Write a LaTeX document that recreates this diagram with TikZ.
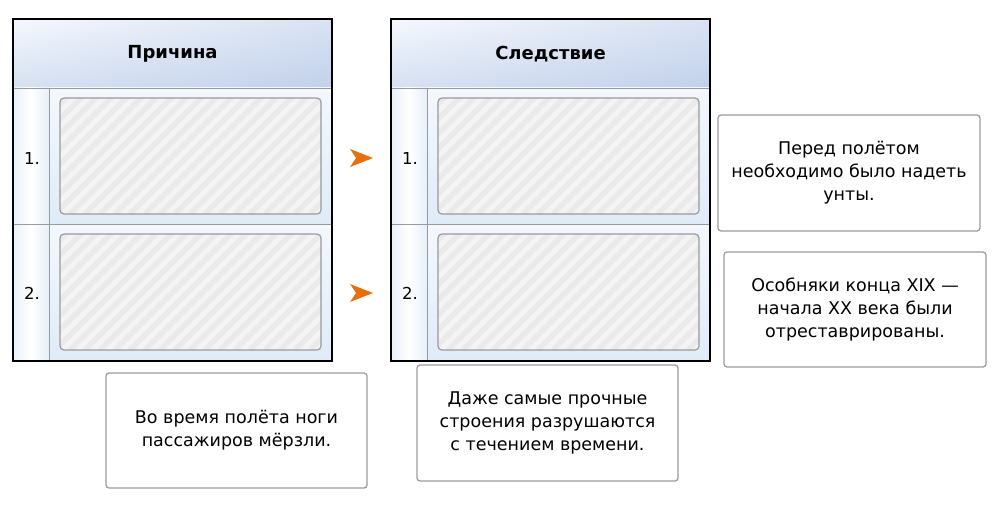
\documentclass[tikz,border=0pt]{standalone}
\usepackage{fontspec}
\setmainfont{DejaVu Sans}
\usetikzlibrary{positioning,shadings}

\definecolor{headlight}{HTML}{F5F8FD}
\definecolor{headdark}{HTML}{C2D1EA}
\definecolor{rowlight}{HTML}{F4F8FD}
\definecolor{rowdark}{HTML}{DFEBF7}
\definecolor{slotfill}{HTML}{F4F4F4}
\definecolor{slotline}{HTML}{EAEAEA}
\definecolor{gridline}{HTML}{9A9A9A}
\definecolor{cardline}{HTML}{9C9C9C}
\definecolor{pointercolor}{HTML}{E8700A}

\begin{document}
\begin{tikzpicture}[x=1pt, y=-1pt,
    card/.style={draw=cardline, line width=1.3pt, fill=white, rounded corners=3pt, minimum width=261pt,
      minimum height=115pt, inner sep=0pt, align=center, font=\fontsize{17.5}{23}\selectfont},
    slot/.style={draw=gridline, line width=1.2pt, fill=slotfill, rounded corners=4pt, minimum width=261pt,
      minimum height=116pt, inner sep=0pt,
      path picture={\foreach \k in {0,...,30}
        \draw[slotline, line width=5.5pt] ([xshift=\k*15pt-140pt]path picture bounding box.south west) -- ++(150,-150);}},
    headtext/.style={font=\fontsize{18}{20}\selectfont\bfseries},
    numtext/.style={font=\fontsize{16.5}{20}\selectfont}
  ]
  \useasboundingbox (0,0) rectangle (1000,508);

  % the two tables
  \foreach \tx/\name/\title in {13/cause/Причина, 391/effect/Следствие} {
    \begin{scope}[xshift=\tx]
      \shade[upper left=headlight, upper right=headdark!55!headlight,
        lower left=headdark!60!headlight, lower right=headdark] (0,19) rectangle (319,88);
      \shade[top color=rowlight, bottom color=rowdark] (36,88) rectangle (319,224);
      \shade[top color=rowlight, bottom color=rowdark] (36,224) rectangle (319,361);
      \shade[left color=rowdark!70!white, right color=rowdark!80!white, middle color=white] (0,88) rectangle (36,361);
      \draw[gridline] (0,88) -- (319,88) (0,224) -- (319,224) (36,88) -- (36,361);
      \draw[line width=2pt] (0,19) rectangle (319,361);
      \node[headtext] (\name head) at (159.5,54) {\title};
      \node[numtext] (\name num1) at (19,158) {1.};
      \node[numtext] (\name num2) at (19,293) {2.};
      \node[slot] (\name slot1) at (177.5,156) {};
      \node[slot] (\name slot2) at (177.5,292) {};
    \end{scope}
  }

  % pointers between the tables
  \foreach \i/\py in {1/158, 2/293} {
    \coordinate (pointer\i) at (361,\py);
    \fill[pointercolor] (pointer\i) ++(-11,-9) -- ++(23,9) -- ++(-23,9) -- ++(6,-9) -- cycle;
  }

  % answer cards
  \node[card, minimum width=262pt, minimum height=116pt] (boots) at (849,173)
    {Перед полётом\\необходимо было надеть\\унты.};
  \node[card, minimum width=262pt] (houses) at (855,309.5)
    {Особняки конца XIX —\\начала XX века были\\отреставрированы.};
  \node[card] (feet) at (236.5,430.5)
    {Во время полёта ноги\\пассажиров мёрзли.};
  \node[card, minimum height=116pt] (buildings) at (547.5,423)
    {Даже самые прочные\\строения разрушаются\\с течением времени.};
\end{tikzpicture}
\end{document}
